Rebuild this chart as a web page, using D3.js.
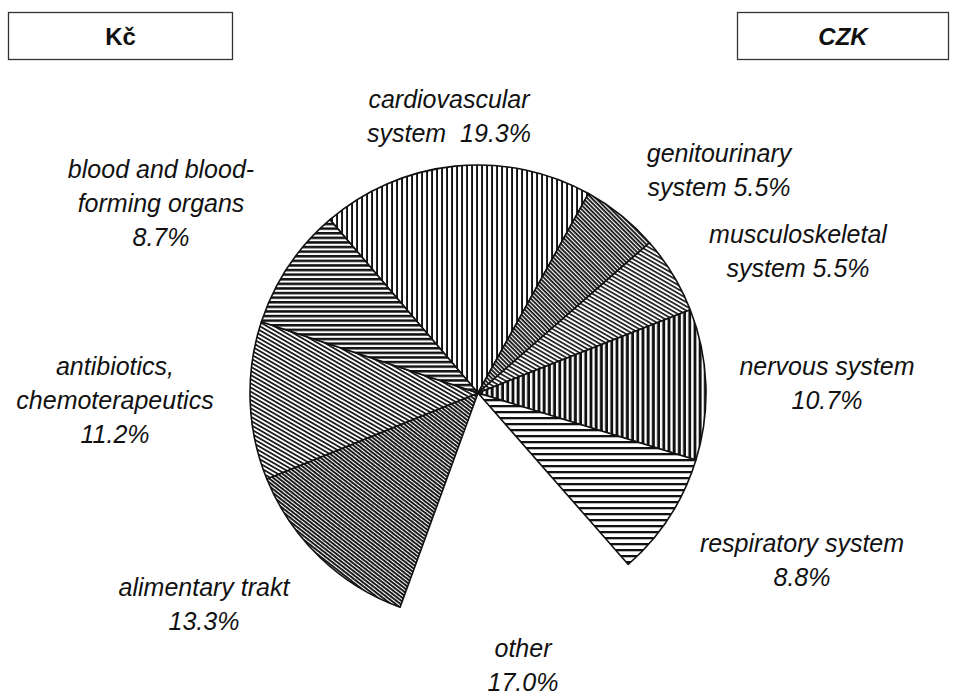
<!DOCTYPE html>
<html>
<head>
<meta charset="utf-8">
<script src="https://cdn.jsdelivr.net/npm/d3@7"></script>
<style>
  html, body { margin: 0; padding: 0; background: #fff; }
  svg { display: block; }
  .lbl { font-family: "Liberation Sans", Arial, sans-serif; font-style: italic; font-size: 25px; fill: #111; }
  .box text { font-family: "Liberation Sans", Arial, sans-serif; font-weight: bold; font-size: 24px; fill: #111; }
</style>
</head>
<body>
<svg id="chart" width="953" height="697"></svg>
<script>
// data, clockwise from the cardiovascular slice
var categories = ["cardiovascular", "genitourinary", "musculoskeletal", "nervous", "respiratory",
                  "other", "alimentary", "antibiotics", "blood"];
var shares = [19.3, 5.5, 5.5, 10.7, 8.8, 17.0, 13.3, 11.2, 8.7];
var labelLines = [
  ["cardiovascular", "system  19.3%"],
  ["genitourinary", "system 5.5%"],
  ["musculoskeletal", "system 5.5%"],
  ["nervous system", "10.7%"],
  ["respiratory system", "8.8%"],
  ["other", "17.0%"],
  ["alimentary trakt", "13.3%"],
  ["antibiotics,", "chemoterapeutics", "11.2%"],
  ["blood and blood-", "forming organs", "8.7%"]
];
var unitLeft = "Kč", unitRight = "CZK";

// layout
var cx = 478, cy = 393, R = 228;
var startDeg = -40.5;
var labelPos = [[449, 108], [719, 162], [798, 243], [827, 375], [802, 552],
                [523, 657], [204, 596], [115, 375], [161, 178]];
var lineGap = 34;

// hatch styles: angle (deg), period, line width ; null = not drawn
var hatch = [
  { a: 90, p: 5.0, w: 1.9 },
  { a: 45, p: 3.0, w: 1.8 },
  { a: 30, p: 3.6, w: 1.6 },
  { a: 90, p: 5.2, w: 2.9 },
  { a: 0,  p: 6.0, w: 2.3 },
  null,
  { a: 38, p: 3.0, w: 1.9 },
  { a: 30, p: 3.6, w: 1.7 },
  { a: 0,  p: 4.6, w: 2.5 }
];

var svg = d3.select("#chart");
var defs = svg.append("defs");
hatch.forEach(function(h, i){
  if (!h) return;
  var pat = defs.append("pattern")
    .attr("id", "h" + i)
    .attr("patternUnits", "userSpaceOnUse")
    .attr("width", h.p).attr("height", h.p)
    .attr("patternTransform", "rotate(" + h.a + ")");
  pat.append("rect").attr("width", h.p).attr("height", h.p).attr("fill", "#fff");
  pat.append("rect").attr("width", h.p).attr("height", h.w).attr("fill", "#111");
});

// unit boxes
function unitBox(x, w, txt, italic){
  var g = svg.append("g").attr("class", "box");
  g.append("rect").attr("x", x).attr("y", 12.5).attr("width", w).attr("height", 47)
    .attr("fill", "#fff").attr("stroke", "#333").attr("stroke-width", 1.3);
  g.append("text").attr("x", x + w / 2).attr("y", 45).attr("text-anchor", "middle")
    .style("font-style", italic ? "italic" : "normal").text(txt);
}
unitBox(8.5, 224, unitLeft, false);
unitBox(737.5, 211, unitRight, true);

// pie
var pie = d3.pie().sort(null).value(function(d){ return d; })
  .startAngle(startDeg * Math.PI / 180)
  .endAngle(startDeg * Math.PI / 180 + 2 * Math.PI);
var arc = d3.arc().innerRadius(0).outerRadius(R);

var gPie = svg.append("g").attr("transform", "translate(" + cx + "," + cy + ")");
gPie.selectAll("path").data(pie(shares)).enter().append("path")
  .attr("d", arc)
  .attr("fill", function(d, i){ return hatch[i] ? "url(#h" + i + ")" : "none"; })
  .attr("stroke", function(d, i){ return hatch[i] ? "#111" : "none"; })
  .attr("stroke-width", 1.6)
  .attr("stroke-linejoin", "round");

// labels
var gLab = svg.append("g");
labelLines.forEach(function(lines, i){
  var t = gLab.append("text").attr("class", "lbl").attr("text-anchor", "middle")
    .attr("x", labelPos[i][0]).attr("y", labelPos[i][1]);
  lines.forEach(function(s, k){
    t.append("tspan").attr("x", labelPos[i][0]).attr("dy", k ? lineGap : 0)
      .attr("xml:space", "preserve").text(s);
  });
});
</script>
</body>
</html>
